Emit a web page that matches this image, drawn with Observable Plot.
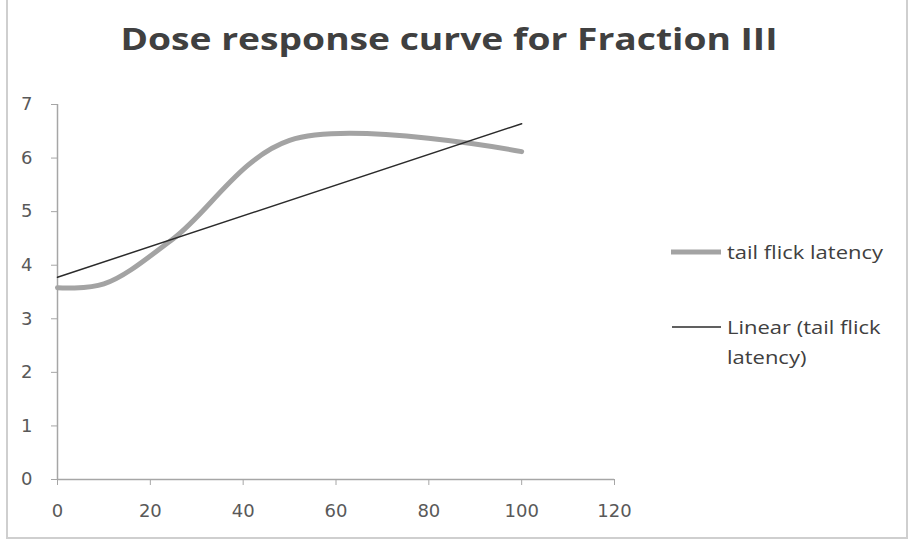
<!DOCTYPE html>
<html>
<head>
<meta charset="utf-8">
<script src="https://cdn.jsdelivr.net/npm/d3@7"></script>
<script src="https://cdn.jsdelivr.net/npm/@observablehq/plot@0.6"></script>
<style>
  html, body { margin: 0; padding: 0; background: #fff; }
  #wrap { position: relative; width: 912px; height: 542px; overflow: hidden; font-family: "Open Sans", sans-serif; }
  #frame { position: absolute; left: 6px; top: -2px; width: 902px; height: 541px; border: 2px solid #cfcfcf; box-sizing: border-box; pointer-events: none; }
  #title { position: absolute; left: 0; width: 898px; top: 17px; text-align: center; font-weight: 700; font-size: 31px; color: #404040; transform: scaleX(1.2); transform-origin: 449px 0; }
  .leg { position: absolute; left: 671px; font-size: 18px; color: #404040; line-height: 30px; }
  .leg svg { position: absolute; left: 0; }
  .leg span { position: absolute; left: 56px; white-space: nowrap; transform: scaleX(1.22); transform-origin: 0 0; }
  #chart { position: absolute; left: 0; top: 0; }
</style>
</head>
<body>
<div id="wrap">
  <div id="chart"></div>
  <div id="title"></div>
  <div id="legend"></div>
  <div id="frame"></div>
</div>
<script>
const titleText = "Dose response curve for Fraction III";
const doses = [0, 10, 25, 50, 100];
const latency = [3.58, 3.65, 4.5, 6.33, 6.12];
const xTicks = [0, 20, 40, 60, 80, 100, 120];
const yTicks = [0, 1, 2, 3, 4, 5, 6, 7];
const seriesName = "tail flick latency";
const trendName = ["Linear (tail flick", "latency)"];

const data = doses.map((d, i) => ({dose: d, latency: latency[i]}));

const chart = Plot.plot({
  width: 912,
  height: 542,
  marginLeft: 57,
  marginRight: 298,
  marginTop: 104,
  marginBottom: 63,
  style: {fontFamily: "DejaVu Sans, sans-serif", fontSize: "18px", color: "#595959", background: "transparent"},
  x: {domain: [0, 120], ticks: xTicks, label: null},
  y: {domain: [0, 7], ticks: yTicks, label: null},
  marks: [
    Plot.axisX({ticks: xTicks, tickSize: 6, tickPadding: 19, stroke: "#a6a6a6", strokeOpacity: 1, label: null, fontSize: 18, fill: "#595959", tickFormat: d3.format("d")}),
    Plot.axisY({ticks: yTicks, tickSize: 6, tickPadding: 19, stroke: "#a6a6a6", strokeOpacity: 1, label: null, fontSize: 18, fill: "#595959", tickFormat: d3.format("d")}),
    Plot.ruleY([0], {stroke: "#a6a6a6", strokeWidth: 1.5}),
    Plot.ruleX([0], {stroke: "#a6a6a6", strokeWidth: 1.5}),
    Plot.line(data, {x: "dose", y: "latency", curve: "catmull-rom", stroke: "#a3a3a3", strokeWidth: 5}),
    Plot.linearRegressionY(data, {x: "dose", y: "latency", ci: 0, stroke: "#2b2b2b", strokeWidth: 1.5})
  ]
});
document.getElementById("chart").appendChild(chart);
document.getElementById("title").textContent = titleText;

const legend = document.getElementById("legend");
legend.innerHTML = `
  <div class="leg" style="top:237px">
    <svg width="56" height="30"><line x1="0" x2="50" y1="15" y2="15" stroke="#a3a3a3" stroke-width="5"/></svg>
    <span>${seriesName}</span>
  </div>
  <div class="leg" style="top:312px">
    <svg width="56" height="30"><line x1="1" x2="50" y1="15" y2="15" stroke="#2b2b2b" stroke-width="1.5"/></svg>
    <span>${trendName[0]}</span>
  </div>
  <div class="leg" style="top:342px">
    <span>${trendName[1]}</span>
  </div>`;
</script>
</body>
</html>
